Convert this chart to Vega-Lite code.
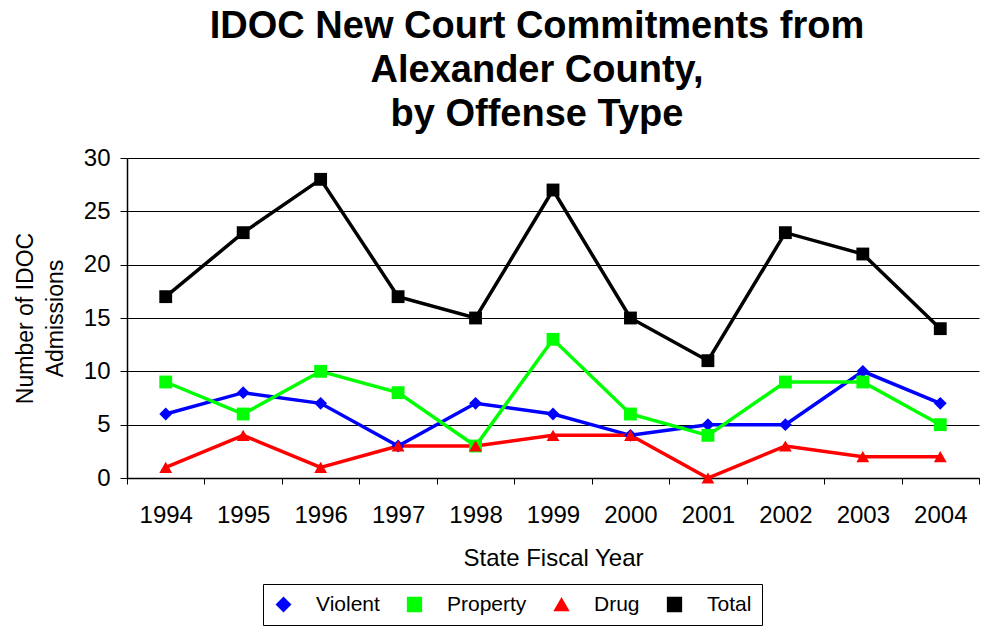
{
  "$schema": "https://vega.github.io/schema/vega-lite/v6.json",
  "width": 852,
  "height": 320,
  "autosize": "none",
  "padding": {"left": 127, "top": 158, "right": 12, "bottom": 148},
  "background": "white",
  "title": {
    "text": ["IDOC New Court Commitments from", "Alexander County,", "by Offense Type"],
    "font": "Liberation Sans",
    "fontSize": 38,
    "fontWeight": "bold",
    "lineHeight": 44,
    "color": "black",
    "anchor": "middle",
    "frame": "group",
    "dx": -16,
    "baseline": "bottom",
    "offset": -26
  },
  "config": {
    "view": {"stroke": null},
    "font": "Liberation Sans",
    "axis": {"labelFont": "Liberation Sans", "titleFont": "Liberation Sans", "labelColor": "black", "titleColor": "black", "titleFontWeight": "normal"}
  },
  "data": {
    "values": [
      {"year": "1994", "series": "Violent", "value": 6},
      {"year": "1995", "series": "Violent", "value": 8},
      {"year": "1996", "series": "Violent", "value": 7},
      {"year": "1997", "series": "Violent", "value": 3},
      {"year": "1998", "series": "Violent", "value": 7},
      {"year": "1999", "series": "Violent", "value": 6},
      {"year": "2000", "series": "Violent", "value": 4},
      {"year": "2001", "series": "Violent", "value": 5},
      {"year": "2002", "series": "Violent", "value": 5},
      {"year": "2003", "series": "Violent", "value": 10},
      {"year": "2004", "series": "Violent", "value": 7},
      {"year": "1994", "series": "Property", "value": 9},
      {"year": "1995", "series": "Property", "value": 6},
      {"year": "1996", "series": "Property", "value": 10},
      {"year": "1997", "series": "Property", "value": 8},
      {"year": "1998", "series": "Property", "value": 3},
      {"year": "1999", "series": "Property", "value": 13},
      {"year": "2000", "series": "Property", "value": 6},
      {"year": "2001", "series": "Property", "value": 4},
      {"year": "2002", "series": "Property", "value": 9},
      {"year": "2003", "series": "Property", "value": 9},
      {"year": "2004", "series": "Property", "value": 5},
      {"year": "1994", "series": "Drug", "value": 1},
      {"year": "1995", "series": "Drug", "value": 4},
      {"year": "1996", "series": "Drug", "value": 1},
      {"year": "1997", "series": "Drug", "value": 3},
      {"year": "1998", "series": "Drug", "value": 3},
      {"year": "1999", "series": "Drug", "value": 4},
      {"year": "2000", "series": "Drug", "value": 4},
      {"year": "2001", "series": "Drug", "value": 0},
      {"year": "2002", "series": "Drug", "value": 3},
      {"year": "2003", "series": "Drug", "value": 2},
      {"year": "2004", "series": "Drug", "value": 2},
      {"year": "1994", "series": "Total", "value": 17},
      {"year": "1995", "series": "Total", "value": 23},
      {"year": "1996", "series": "Total", "value": 28},
      {"year": "1997", "series": "Total", "value": 17},
      {"year": "1998", "series": "Total", "value": 15},
      {"year": "1999", "series": "Total", "value": 27},
      {"year": "2000", "series": "Total", "value": 15},
      {"year": "2001", "series": "Total", "value": 11},
      {"year": "2002", "series": "Total", "value": 23},
      {"year": "2003", "series": "Total", "value": 21},
      {"year": "2004", "series": "Total", "value": 14}
    ]
  },
  "encoding": {
    "x": {
      "field": "year",
      "type": "ordinal",
      "bandPosition": 0.5,
      "scale": {"type": "band", "paddingInner": 0, "paddingOuter": 0},
      "axis": {
        "title": "State Fiscal Year",
        "titleFontSize": 24,
        "titlePadding": 19,
        "labelFontSize": 24,
        "labelAngle": 0,
        "labelPadding": 19,
        "tickBand": "extent",
        "tickSize": 6,
        "tickColor": "black",
        "domainColor": "black",
        "domainWidth": 1.5,
        "grid": false
      }
    },
    "y": {
      "field": "value",
      "type": "quantitative",
      "scale": {"domain": [0, 30], "nice": false},
      "axis": {
        "title": ["Number of IDOC", "Admissions"],
        "titleFontSize": 23,
        "titleLineHeight": 30,
        "titlePadding": 16,
        "labelFontSize": 24,
        "labelPadding": 10,
        "values": [0, 5, 10, 15, 20, 25, 30],
        "tickSize": 7,
        "tickColor": "black",
        "domainColor": "black",
        "domainWidth": 1.5,
        "grid": true,
        "gridColor": "black",
        "gridOpacity": 1,
        "gridWidth": 1
      }
    },
    "color": {
      "field": "series",
      "type": "nominal",
      "scale": {"domain": ["Violent", "Property", "Drug", "Total"], "range": ["#0000FF", "#00FF00", "#FF0000", "#000000"]},
      "legend": {
        "orient": "none",
        "legendX": 136,
        "legendY": 426,
        "direction": "horizontal",
        "columns": 4,
        "title": null,
        "labelFont": "Liberation Sans",
        "labelFontSize": 21,
        "labelColor": "black",
        "symbolSize": 190,
        "labelOffset": 22,
        "columnPadding": 24,
        "gridAlign": "none",
        "strokeColor": "black",
        "fillColor": "white",
        "padding": 10
      }
    }
  },
  "layer": [
    {
      "mark": {"type": "line", "strokeWidth": 3.5},
      "encoding": {"detail": {"field": "series"}}
    },
    {
      "mark": {"type": "point", "filled": true, "opacity": 1, "size": 165},
      "encoding": {
        "shape": {
          "field": "series",
          "type": "nominal",
          "scale": {"domain": ["Violent", "Property", "Drug", "Total"], "range": ["diamond", "square", "triangle-up", "square"]},
          "legend": {
            "orient": "none",
            "legendX": 136,
            "legendY": 426,
            "direction": "horizontal",
            "columns": 4,
            "title": null,
            "labelFont": "Liberation Sans",
            "labelFontSize": 21,
            "labelColor": "black",
            "symbolSize": 190,
            "labelOffset": 22,
            "columnPadding": 24,
            "gridAlign": "none",
            "strokeColor": "black",
            "fillColor": "white",
            "padding": 10
          }
        }
      }
    }
  ]
}
